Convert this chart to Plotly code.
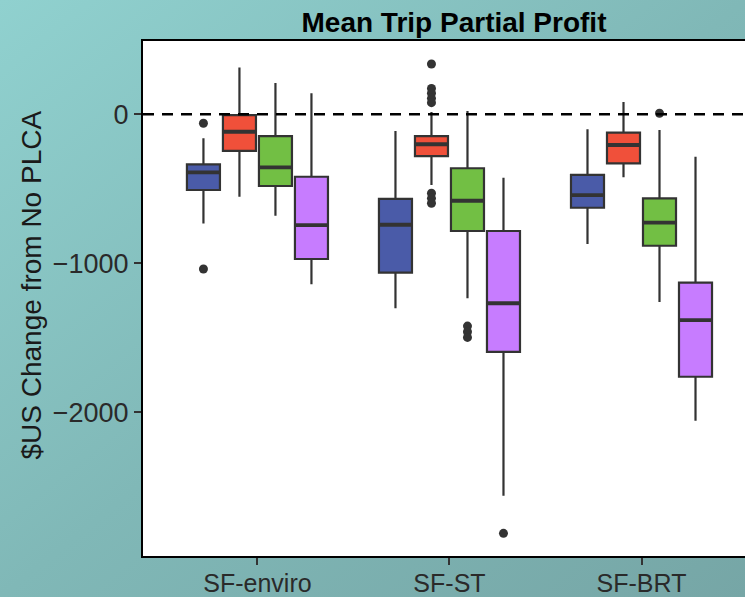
import base64
import plotly.graph_objects as go

# ---------------- data ----------------
categories = ["SF-enviro", "SF-ST", "SF-BRT"]
series = ["A", "B", "C", "D"]
colors = ["#4A5BA8", "#F0503A", "#72BF44", "#C77CFF"]

# per series: values for the three categories
q1 = {
    "A": [-508, -1063, -627],
    "B": [-246, -280, -329],
    "C": [-481, -783, -882],
    "D": [-971, -1594, -1761],
}
median = {
    "A": [-389, -741, -542],
    "B": [-117, -201, -206],
    "C": [-356, -580, -727],
    "D": [-743, -1268, -1381],
}
q3 = {
    "A": [-336, -568, -407],
    "B": [-5, -146, -123],
    "C": [-146, -362, -564],
    "D": [-419, -783, -1130],
}
lowerfence = {
    "A": [-732, -1302, -870],
    "B": [-553, -474, -423],
    "C": [-680, -1235, -1260],
    "D": [-1141, -2560, -2056],
}
upperfence = {
    "A": [-161, -112, -101],
    "B": [315, 15, 83],
    "C": [210, 22, -105],
    "D": [141, -425, -285],
}
outliers = {
    "A": [[-60, -1038], [], []],
    "B": [[], [338, 174, 141, 107, 78, -530, -564, -597], []],
    "C": [[], [-1421, -1459, -1497], [7]],
    "D": [[], [-2812], []],
}
yticks = [0, -1000, -2000]
title_text = "Mean Trip Partial Profit"
ytitle_text = "$US Change from No PLCA"

# ---------------- layout constants ----------------
slot = 0.1875        # dodge slot width (0.75 / 4)
box_w = 0.172
edge = "#333333"

fig = go.Figure()

for k, s in enumerate(series):
    off = (k - 1.5) * slot
    for i, cat in enumerate(categories):
        xpos = i + off
        fig.add_trace(go.Box(
            x=[xpos],
            q1=[q1[s][i]], median=[median[s][i]], q3=[q3[s][i]],
            lowerfence=[lowerfence[s][i]], upperfence=[upperfence[s][i]],
            width=box_w,
            fillcolor=colors[k],
            line=dict(color=edge, width=2.2),
            whiskerwidth=0,
            boxpoints=False,
            showlegend=False,
            hoverinfo="skip",
        ))
        # thick median
        fig.add_trace(go.Scatter(
            x=[xpos - box_w / 2, xpos + box_w / 2],
            y=[median[s][i], median[s][i]],
            mode="lines",
            line=dict(color=edge, width=3.8),
            showlegend=False, hoverinfo="skip",
        ))
        if outliers[s][i]:
            fig.add_trace(go.Scatter(
                x=[xpos] * len(outliers[s][i]),
                y=outliers[s][i],
                mode="markers",
                marker=dict(color=edge, size=9),
                showlegend=False, hoverinfo="skip",
            ))

# gradient background as svg image
svg = ('<svg xmlns="http://www.w3.org/2000/svg" width="745" height="597">'
       '<defs><linearGradient id="g" x1="0" y1="0" x2="1" y2="1">'
       '<stop offset="0" stop-color="#90D1CF"/>'
       '<stop offset="0.5" stop-color="#80B8B7"/>'
       '<stop offset="1" stop-color="#76A6A6"/>'
       '</linearGradient></defs>'
       '<rect width="745" height="597" fill="url(#g)"/></svg>')
src = "data:image/svg+xml;base64," + base64.b64encode(svg.encode()).decode()

W, H = 745, 597
ml, mr, mt, mb = 143, 0, 41, 41
pw, ph = W - ml - mr, H - mt - mb

fig.add_layout_image(dict(
    source=src, xref="paper", yref="paper",
    x=-ml / pw, y=1 + mt / ph, sizex=W / pw, sizey=H / ph,
    xanchor="left", yanchor="top", sizing="stretch", layer="below",
))

fig.add_shape(type="rect", xref="paper", yref="paper", x0=0, x1=1, y0=0, y1=1,
              fillcolor="white", line=dict(width=0), layer="below")
fig.add_shape(type="line", xref="paper", yref="y", x0=0, x1=1, y0=0, y1=0,
              line=dict(color="black", width=2.5, dash="11px,8px"), layer="above")

# y-axis title as annotation (placed like the reference)
fig.add_annotation(
    text=ytitle_text, xref="paper", yref="paper",
    x=(31 - ml) / pw, y=(H - mb - 285.5) / ph,
    xanchor="center", yanchor="middle", textangle=-90, showarrow=False,
    font=dict(size=28, color="#1a1a1a"),
)

fig.update_layout(
    width=W, height=H,
    margin=dict(l=ml, r=mr, t=mt, b=mb, autoexpand=False),
    paper_bgcolor="#84BDBC",
    plot_bgcolor="white",
    font=dict(family="Liberation Sans, Arial, sans-serif", color="#222222"),
    title=dict(text="<b>" + title_text + "</b>", x=454 / W, xanchor="center",
               y=1 - 22 / H, yanchor="middle",
               font=dict(size=28, color="black"), automargin=False),
    xaxis=dict(
        range=[-0.596, 2.539],
        tickvals=list(range(len(categories))), ticktext=categories,
        showgrid=False, zeroline=False, automargin=False,
        showline=True, mirror=True, linecolor="black", linewidth=2,
        ticks="outside", ticklen=7, tickwidth=1.5, tickcolor="#333333",
        tickfont=dict(size=25, color="#2a2a2a"),
        ticklabelstandoff=-3,
    ),
    yaxis=dict(
        range=[-2964, 492],
        tickvals=yticks,
        showgrid=False, zeroline=False, automargin=False,
        showline=True, linecolor="black", linewidth=2,
        ticks="outside", ticklen=7, tickwidth=1.5, tickcolor="#333333",
        tickfont=dict(size=27, color="#2a2a2a"),
    ),
)

fig.write_html("out.html")
